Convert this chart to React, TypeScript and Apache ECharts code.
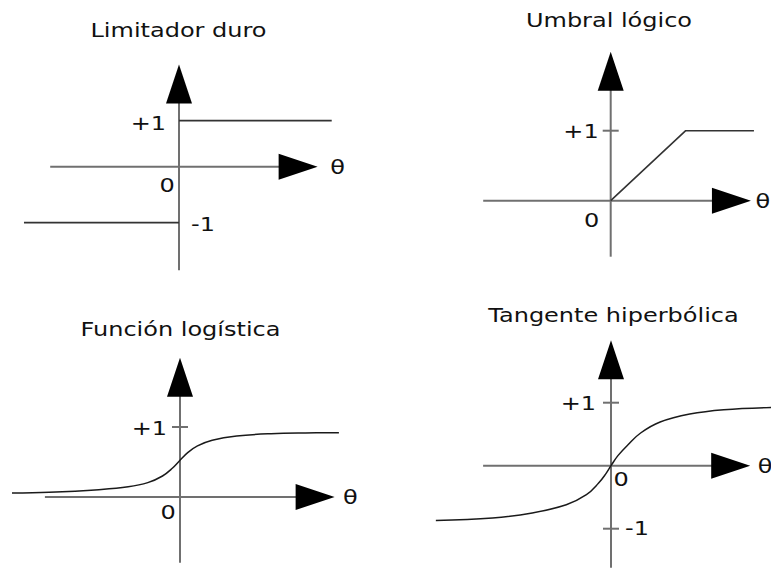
import React, { useEffect, useRef } from "react";
import * as echarts from "echarts";

// ---------- texts ----------
const TITLES = ["Limitador duro", "Umbral lógico", "Función logística", "Tangente hiperbólica"];
const THETA = "θ";

// ---------- Limitador duro ----------
const hardHighX = [0, 3.32];
const hardHighY = [1, 1];
const hardLowX = [-3.37, 0];
const hardLowY = [-1, -1];
const hardAxisX = [-2.8, 2.59];
const hardAxisY = [-2.25, 1.8];
const hardTicks: number[] = [];

// ---------- Umbral lógico ----------
const rampX = [0, 1, 1.91];
const rampY = [0, 1, 1];
const rampAxisX = [-1.7, 1.61];
const rampAxisY = [-0.8, 1.85];
const rampTicks = [1];

// ---------- Función logística ----------
const logX = [-2.4, -1.87, -1.16, -0.74, -0.46, -0.25, -0.11, 0, 0.11, 0.25, 0.46, 0.81, 1.3, 1.79, 2.27];
const logY = [0.057, 0.068, 0.105, 0.145, 0.205, 0.3, 0.41, 0.524, 0.635, 0.73, 0.81, 0.871, 0.905, 0.915, 0.917];
const logAxisX = [-1.93, 1.93];
const logAxisY = [-0.94, 1.71];
const logTicks = [1];

// ---------- Tangente hiperbólica ----------
const tanhX = [-2.78, -1.88, -1.25, -0.71, -0.39, -0.2, -0.08, 0, 0.11, 0.27, 0.47, 0.78, 1.25, 1.79, 2.56];
const tanhY = [-0.868, -0.83, -0.75, -0.62, -0.46, -0.28, -0.125, 0, 0.16, 0.333, 0.519, 0.693, 0.82, 0.889, 0.925];
const tanhAxisX = [-2.03, 1.9];
const tanhAxisY = [-1.62, 1.68];
const tanhTicks = [1, -1];

// ---------- tick labels (text, value on the vertical axis) ----------
const hardLabelTexts = ["+1", "0", "-1"];
const hardLabelValues = [1, 0, -1];
const rampLabelTexts = ["+1", "0"];
const rampLabelValues = [1, 0];
const logLabelTexts = ["+1", "0"];
const logLabelValues = [1, 0];
const tanhLabelTexts = ["+1", "0", "-1"];
const tanhLabelValues = [1, 0, -1];

const zip = (xs: number[], ys: number[]) => xs.map((x, i) => [x, ys[i]]);

// ---------- layout & style ----------
const FONT = "DejaVu Sans";
const FS = 20;
const SX = 1.2;
const TEXT_COLOR = "#111111";
const AXIS_COLOR = "#707070";
const CURVE_COLOR = "#1a1a1a";
const TICK_PX = 8;
const ARROW = [26, 39];

type Lbl = { dx: number; dy: number; align: "left" | "right" | "center"; low?: boolean };

const PANELS = [
  {
    title: TITLES[0], titlePos: [178.5, 30], origin: [179, 166.7], unit: [46, 46], lowUnit: 56,
    xr: [-3.5, 3.5], yr: [-2.5, 2.5], axisX: hardAxisX, axisY: hardAxisY, ticks: hardTicks,
    labelTexts: hardLabelTexts, labelValues: hardLabelValues,
    labelStyle: [
      { dx: -13, dy: 2, align: "right" },
      { dx: -12, dy: 18, align: "center" },
      { dx: 12, dy: 1, align: "left", low: true },
    ] as Lbl[],
    thetaDx: 32,
    curves: [
      { data: zip(hardHighX, hardHighY), low: false, color: "#333333", width: 1.8 },
      { data: zip(hardLowX, hardLowY), low: true, color: "#333333", width: 1.8 },
    ],
  },
  {
    title: TITLES[1], titlePos: [609, 19.5], origin: [610.7, 200.7], unit: [75, 70], lowUnit: 0,
    xr: [-1.9, 2.1], yr: [-1, 2.5], axisX: rampAxisX, axisY: rampAxisY, ticks: rampTicks,
    labelTexts: rampLabelTexts, labelValues: rampLabelValues,
    labelStyle: [
      { dx: -12, dy: 0, align: "right" },
      { dx: -19, dy: 19, align: "center" },
    ] as Lbl[],
    thetaDx: 24,
    curves: [{ data: zip(rampX, rampY), low: false, color: "#333333", width: 1.6 }],
  },
  {
    title: TITLES[2], titlePos: [180.5, 329], origin: [180, 497], unit: [70, 70], lowUnit: 0,
    xr: [-2.5, 2.5], yr: [-1, 2], axisX: logAxisX, axisY: logAxisY, ticks: logTicks,
    labelTexts: logLabelTexts, labelValues: logLabelValues,
    labelStyle: [
      { dx: -13, dy: 1, align: "right" },
      { dx: -12, dy: 15, align: "center" },
    ] as Lbl[],
    thetaDx: 28,
    curves: [{ data: zip(logX, logY), low: false, color: CURVE_COLOR, width: 1.5, smooth: true }],
  },
  {
    title: TITLES[3], titlePos: [613.5, 315], origin: [611, 465.7], unit: [63, 63], lowUnit: 0,
    xr: [-2.9, 2.54], yr: [-1.6, 2], axisX: tanhAxisX, axisY: tanhAxisY, ticks: tanhTicks,
    labelTexts: tanhLabelTexts, labelValues: tanhLabelValues,
    labelStyle: [
      { dx: -15, dy: 0, align: "right" },
      { dx: 10, dy: 13, align: "center" },
      { dx: 14, dy: -1, align: "left" },
    ] as Lbl[],
    thetaDx: 27,
    curves: [{ data: zip(tanhX, tanhY), low: false, color: CURVE_COLOR, width: 1.5, smooth: true }],
  },
];

export default function App() {
  const ref = useRef<HTMLDivElement>(null);

  useEffect(() => {
    if (!ref.current) return;
    const chart = echarts.init(ref.current, null, { renderer: "svg" });

    const grid: any[] = [];
    const xAxis: any[] = [];
    const yAxis: any[] = [];
    const series: any[] = [];
    const mainY: number[] = [];
    const lowY: number[] = [];

    const lineSeries = (xi: number, yi: number, data: any[], color: string, width: number, z: number, smooth = false) => ({
      type: "line",
      xAxisIndex: xi,
      yAxisIndex: yi,
      data,
      symbol: "none",
      showSymbol: false,
      smooth: smooth ? 0.4 : false,
      clip: false,
      silent: true,
      z,
      lineStyle: { color, width, cap: "butt" },
      emphasis: { disabled: true },
    });

    PANELS.forEach((p, i) => {
      const [ox, oy] = p.origin;
      const [ux, uy] = p.unit;
      grid.push({
        left: ox + p.xr[0] * ux,
        top: oy - p.yr[1] * uy,
        width: (p.xr[1] - p.xr[0]) * ux,
        height: (p.yr[1] - p.yr[0]) * uy,
        containLabel: false,
        outerBoundsMode: "none",
      });
      xAxis.push({ type: "value", gridIndex: i, min: p.xr[0], max: p.xr[1], show: false });
      mainY[i] = yAxis.length;
      yAxis.push({ type: "value", gridIndex: i, min: p.yr[0], max: p.yr[1], show: false });
      lowY[i] = mainY[i];
      if (p.lowUnit) {
        const k = uy / p.lowUnit;
        lowY[i] = yAxis.length;
        yAxis.push({ type: "value", gridIndex: i, min: p.yr[0] * k, max: p.yr[1] * k, show: false });
      }

      // axes
      series.push(lineSeries(i, mainY[i], [[p.axisX[0], 0], [p.axisX[1], 0]], AXIS_COLOR, 2, 2));
      series.push(lineSeries(i, mainY[i], [[0, p.axisY[0]], [0, p.axisY[1]]], AXIS_COLOR, 2, 2));
      // ticks
      const tx = TICK_PX / ux;
      p.ticks.forEach((t) => {
        series.push(lineSeries(i, mainY[i], [[-tx, t], [tx, t]], AXIS_COLOR, 2, 2));
      });
      // curves
      p.curves.forEach((c: any) => {
        series.push(lineSeries(i, c.low ? lowY[i] : mainY[i], c.data, c.color, c.width, 3, !!c.smooth));
      });
      // arrow heads
      series.push({
        type: "scatter",
        xAxisIndex: i,
        yAxisIndex: mainY[i],
        symbol: "triangle",
        symbolSize: ARROW,
        clip: false,
        silent: true,
        z: 4,
        itemStyle: { color: "#000000", opacity: 1 },
        emphasis: { disabled: true },
        data: [
          { value: [p.axisX[1], 0], symbolRotate: -90 },
          { value: [0, p.axisY[1]], symbolRotate: 0 },
        ],
      });
    });

    chart.setOption({
      animation: false,
      tooltip: { show: false },
      grid,
      xAxis,
      yAxis,
      series,
    });

    const textEl = (x: number, y: number, text: string, align: string, verticalAlign = "middle") => ({
      type: "text",
      x,
      y,
      scaleX: SX,
      silent: true,
      z: 10,
      style: {
        text,
        fontSize: FS,
        fontFamily: FONT,
        fill: TEXT_COLOR,
        align,
        verticalAlign,
      },
    });

    const graphic: any[] = [];
    PANELS.forEach((p, i) => {
      graphic.push(textEl(p.titlePos[0], p.titlePos[1], p.title, "center"));
      p.labelTexts.forEach((t, j) => {
        const st = p.labelStyle[j];
        const yi = st.low ? lowY[i] : mainY[i];
        const pt = chart.convertToPixel({ xAxisIndex: i, yAxisIndex: yi } as any, [0, p.labelValues[j]]) as number[];
        graphic.push(textEl(pt[0] + st.dx, pt[1] + st.dy, t, st.align));
      });
      const tp = chart.convertToPixel({ xAxisIndex: i, yAxisIndex: mainY[i] } as any, [p.axisX[1], 0]) as number[];
      graphic.push(textEl(tp[0] + p.thetaDx, tp[1], THETA, "left"));
    });
    chart.setOption({ graphic });

    return () => chart.dispose();
  }, []);

  return (
    <div
      ref={ref}
      style={{ position: "absolute", left: 0, top: 0, width: 771, height: 569, background: "#ffffff" }}
    />
  );
}
